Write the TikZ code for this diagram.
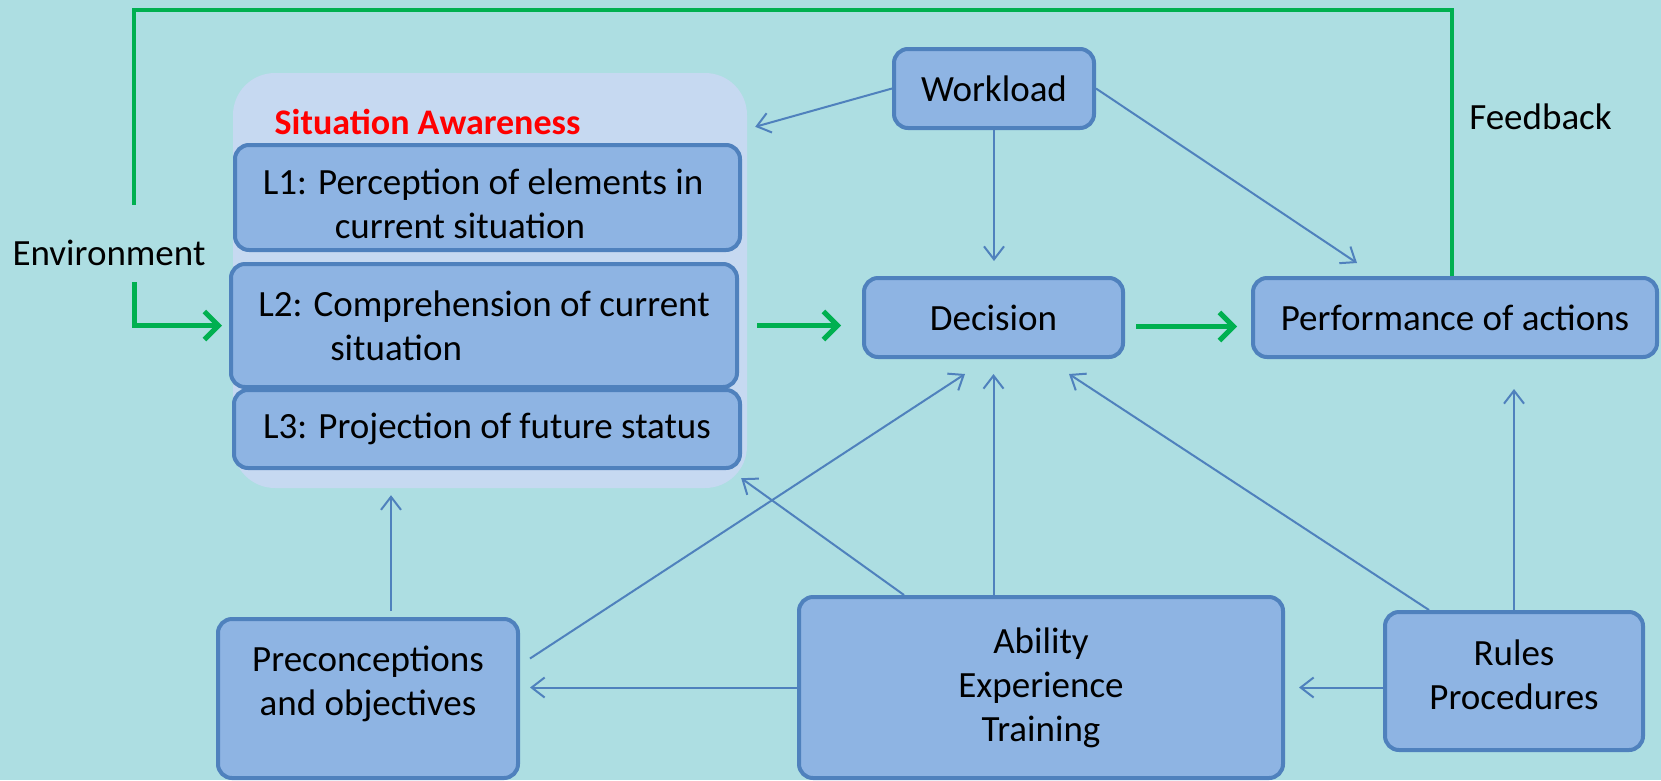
\documentclass[tikz,border=0pt]{standalone}
\usepackage{fontspec}
\setmainfont{Carlito}
\usetikzlibrary{arrows.meta,
  calc
}
\definecolor{bgcyan}{HTML}{ADDEE2}
\definecolor{boxfill}{HTML}{8EB4E3}
\definecolor{boxline}{HTML}{4F81BD}
\definecolor{linkblue}{HTML}{4F81BD}
\definecolor{sapanel}{HTML}{C6D9F1}
\definecolor{fbgreen}{HTML}{00B050}
\tikzstyle{lbl} = [inner sep=0, align=center, font=\fontsize{37}{44}\selectfont]
\tikzstyle{box} = [lbl, draw=boxline, fill=boxfill, line width=4pt, rounded corners=14pt]
\tikzstyle{panel} = [fill=sapanel, rounded corners=42pt, inner sep=0]
\tikzstyle{satitle} = [inner sep=0, red, font=\fontsize{36}{44}\bfseries\selectfont]
\tikzstyle{link} = [draw=linkblue, line width=2pt, -{Straight Barb[length=13pt, width=20pt]}]
\tikzstyle{flow} = [draw=fbgreen, line width=5pt, -{Straight Barb[length=14pt, width=28pt]}]
\tikzstyle{fbline} = [draw=fbgreen, line width=4.5pt]

\begin{document}
\begin{tikzpicture}[x=1pt, y=-1pt]
  \useasboundingbox[fill=bgcyan] (0,0) rectangle (1661,780);

  % situation awareness
  \node[panel, minimum width=514, minimum height=415] (sa) at (490,280.5) {};
  \node[satitle] (satext) at (427.5,122) {Situation Awareness};
  \node[box, minimum width=505, minimum height=105] (L1) at (487.5,197.5) {};
  \path (483,204) node[lbl, align=left] (L1text)
    {L1: Perception of elements in\\\hspace*{72pt}current situation};
  \node[box, align=left, minimum width=506, minimum height=123] (L2) at (484,325.5)
    {L2: Comprehension of current\\\hspace*{72pt}situation};
  \node[box, minimum width=506, minimum height=78] (L3) at (487,429)
    {L3: Projection of future status};

  % top row
  \node[box, minimum width=200, minimum height=79] (wl) at (994,88.5) {Workload};
  \node[box, minimum width=259, minimum height=79] (dec) at (993.5,317.5) {Decision};
  \node[box, minimum width=404, minimum height=79] (perf) at (1455,317.5) {Performance of actions};
  \node[lbl] (env) at (109,253) {Environment};
  \node[lbl] (fb) at (1540.5,117) {Feedback};

  % bottom row
  \node[box, minimum width=300, minimum height=159] (pre) at (368,698.5) {};
  \path (368,684) node[lbl] (pretext) {Preconceptions\\and objectives};
  \node[box, minimum width=484, minimum height=181] (abl) at (1041,687.5)
    {Ability\\Experience\\Training};
  \node[box, minimum width=258, minimum height=138] (rules) at (1514,681) {};
  \path (1514,675) node[lbl] (rulestext) {Rules\\Procedures};

  % workload links
  \draw[link] (wl.west) -- ([shift={(8,54)}]sa.north east);
  \draw[link, shorten >=15pt] (wl.south) -- (wl.south |- dec.north);
  \draw[link] (wl.east) -- ([shift={(-98,-13)}]perf.north);

  % main flow
  \draw[flow, shorten <=18pt, shorten >=21pt] (L2.east) -- (L2.east -| dec.west);
  \draw[flow, shorten <=11pt, shorten >=14pt] ([yshift=-9pt]dec.east) -- ([yshift=-9pt]perf.west);

  % feedback loop
  \coordinate (fbcorner) at (1452,10);
  \coordinate (envtop) at (134,205);
  \coordinate (envbot) at (134,282);
  \draw[fbline] (perf.north -| fbcorner) -- (fbcorner) -| (envtop);
  \draw[flow, shorten >=7pt] (envbot) |- (L2.west);

  % influences from below
  \draw[link, shorten <=6pt, shorten >=7pt] ([xshift=23pt]pre.north) -- ([xshift=23pt]pre.north |- sa.south);
  \draw[link] ([shift={(10,-40)}]pre.east) -- ([shift={(-28.5,15)}]dec.south);
  \draw[link, shorten >=10pt] (abl.west) -- (abl.west -| pre.east);
  \draw[link] ([xshift=-137pt]abl.north) -- ([shift={(-6,-10)}]sa.south east);
  \draw[link, shorten >=15pt] (abl.north -| dec.south) -- (dec.south);
  \draw[link, shorten >=14pt] (abl.east -| rules.west) -- (abl.east);
  \draw[link] ([xshift=-85pt]rules.north) -- ([shift={(75.5,15)}]dec.south);
  \draw[link, shorten >=30pt] (rules.north) -- (rules.north |- perf.south);
\end{tikzpicture}
\end{document}
